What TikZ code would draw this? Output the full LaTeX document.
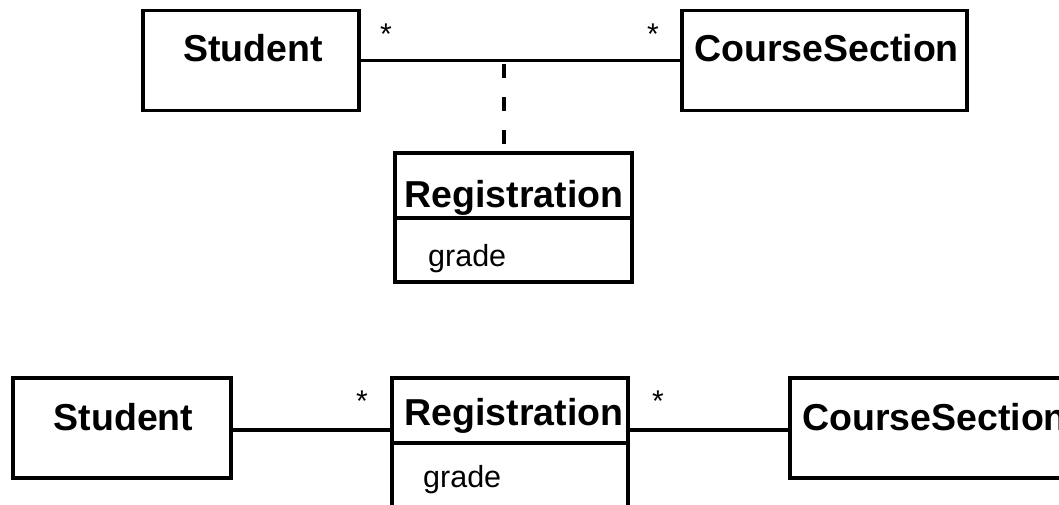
\documentclass[tikz,border=0pt]{standalone}
\usepackage{fontspec}
\setmainfont{Liberation Sans}
\begin{document}
\begin{tikzpicture}[x=1pt,y=-1pt,
  classbox/.style={draw=black, line width=3.5pt, inner sep=0pt, minimum width=#1},
  cname/.style={font=\fontsize{37.5}{44}\selectfont\bfseries, inner sep=0pt, anchor=base},
  attr/.style={font=\fontsize{30.5}{36}\selectfont, inner sep=0pt, anchor=base west},
  mult/.style={font=\fontsize{30}{36}\selectfont, inner sep=0pt, anchor=base},
  assoc/.style={line width=3.5pt},
  divider/.style={line width=3.5pt},
  linkdash/.style={line width=3.5pt, dash pattern=on 14pt off 19pt}]
\useasboundingbox (0,0) rectangle (1059,505);
\clip (0,0) rectangle (1059,505);
\fill[white] (0,0) rectangle (1059,505);

% ---- association class form ----
\node[classbox=216pt, minimum height=100pt] (stuA) at (251,60.5) {};
\node[classbox=285pt, minimum height=100pt] (csA) at (824.5,60.5) {};
\node[classbox=237pt, minimum height=129pt] (regA) at (513.5,217.5) {};
\node[cname] (stuAname) at (253,62) {Student};
\node[cname] (csAname) at (826.5,62) {CourseSection};
\node[cname] (regAname) at (514,207) {Registration};
\node[attr] (regAattr) at (428,266) {grade};
\draw[divider] (regA.west |- 0,218) -- (regA.east |- 0,218);
\draw[assoc] (stuA.east) -- (csA.west);
\coordinate (assocmid) at (504,64);
\draw[linkdash] (assocmid) -- (assocmid |- regA.north);
\node[mult] (mA1) at (386,45) {*};
\node[mult] (mA2) at (653,45) {*};

% ---- promoted class form ----
\node[classbox=218pt, minimum height=100pt] (stuB) at (122,428) {};
\node[classbox=236pt, minimum height=150pt] (regB) at (510,453) {};
\node[classbox=300pt, minimum height=100pt] (csB) at (940,428) {};
\node[cname] (stuBname) at (123.5,430) {Student};
\node[cname] (regBname) at (514,425) {Registration};
\node[cname, anchor=base west] (csBname) at (802,430) {CourseSection};
\node[attr] (regBattr) at (423,487) {grade};
\draw[divider] (regB.west |- 0,443) -- (regB.east |- 0,443);
\draw[assoc] (stuB.east |- 0,430) -- (regB.west |- 0,430);
\draw[assoc] (regB.east |- 0,430) -- (csB.west |- 0,430);
\node[mult] (mB1) at (362,411) {*};
\node[mult] (mB2) at (658,411) {*};
\end{tikzpicture}
\end{document}
